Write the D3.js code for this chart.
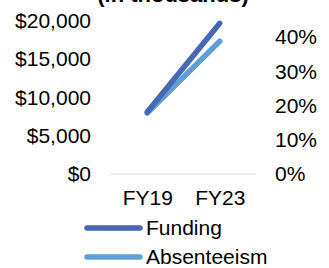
<!DOCTYPE html>
<html>
<head>
<meta charset="utf-8">
<script src="https://cdn.jsdelivr.net/npm/d3@7"></script>
<style>
  body { margin: 0; background: #fff; }
  text { font-family: Arial, "Liberation Sans", sans-serif; fill: #000; }
</style>
</head>
<body>
<div id="chart"></div>
<script>
// data
var categories = ["FY19", "FY23"];
var funding = [8100, 19700];          // dollars (in thousands)
var absenteeism = [0.178, 0.388];     // share
var leftTicks = [0, 5000, 10000, 15000, 20000];
var rightTicks = [0, 0.1, 0.2, 0.3, 0.4];
var seriesNames = ["Funding", "Absenteeism"];
var seriesColors = ["#4768b2", "#5e9fd6"];

var width = 329, height = 268;
var fs = 21;

var svg = d3.select("#chart").append("svg")
    .attr("width", width)
    .attr("height", height);

// plot area
var plotLeft = 111, plotRight = 256, plotTop = 21, plotBottom = 174;

var x = d3.scalePoint()
    .domain(categories)
    .range([plotLeft, plotRight])
    .padding(0.5);

var yLeft = d3.scaleLinear().domain([0, 20000]).range([plotBottom, plotTop]);
// right axis: 45% lands at the top of the plot
var yRight = d3.scaleLinear().domain([0, 0.45]).range([plotBottom, plotTop - 1]);

// title, mostly cut off by the top edge (as in the source image)
svg.append("text")
    .attr("x", 173)
    .attr("y", 1.5)
    .attr("text-anchor", "middle")
    .style("font-size", "22px")
    .style("font-weight", "bold")
    .text("(in thousands)");

// zero gridline
svg.append("line")
    .attr("x1", plotLeft).attr("x2", plotRight)
    .attr("y1", yLeft(0)).attr("y2", yLeft(0))
    .attr("stroke", "#d9d9d9")
    .attr("stroke-width", 1);

// left axis
var axL = d3.axisLeft(yLeft)
    .tickValues(leftTicks)
    .tickSize(0)
    .tickPadding(0)
    .tickFormat(function (d) { return "$" + d3.format(",")(d); });
var gL = svg.append("g").attr("transform", "translate(91,0)").call(axL);
gL.select(".domain").remove();
gL.selectAll("text").style("font-size", fs + "px").attr("fill", "#000")
    .style("font-family", "Arial, 'Liberation Sans', sans-serif");

// right axis
var axR = d3.axisRight(yRight)
    .tickValues(rightTicks)
    .tickSize(0)
    .tickPadding(0)
    .tickFormat(d3.format(".0%"));
var gR = svg.append("g").attr("transform", "translate(275,0)").call(axR);
gR.select(".domain").remove();
gR.selectAll("text").style("font-size", fs + "px").attr("fill", "#000")
    .style("font-family", "Arial, 'Liberation Sans', sans-serif");

// category labels
var axB = d3.axisBottom(x).tickSize(0).tickPadding(0);
var gB = svg.append("g").attr("transform", "translate(0,190)").call(axB);
gB.select(".domain").remove();
gB.selectAll("text").style("font-size", fs + "px").attr("fill", "#000")
    .style("font-family", "Arial, 'Liberation Sans', sans-serif");

// lines
var lineL = d3.line()
    .x(function (d, i) { return x(categories[i]); })
    .y(function (d) { return yLeft(d); });
var lineR = d3.line()
    .x(function (d, i) { return x(categories[i]); })
    .y(function (d) { return yRight(d); });

svg.append("path")
    .attr("d", lineR(absenteeism))
    .attr("fill", "none")
    .attr("stroke", seriesColors[1])
    .attr("stroke-width", 5.5)
    .attr("stroke-linecap", "round");

svg.append("path")
    .attr("d", lineL(funding))
    .attr("fill", "none")
    .attr("stroke", seriesColors[0])
    .attr("stroke-width", 5.5)
    .attr("stroke-linecap", "round");

// legend
var legend = svg.selectAll(".leg")
    .data(seriesNames)
    .enter().append("g")
    .attr("class", "leg")
    .attr("transform", function (d, i) { return "translate(0," + (228 + i * 29) + ")"; });

legend.append("line")
    .attr("x1", 87).attr("x2", 140)
    .attr("y1", 0).attr("y2", 0)
    .attr("stroke", function (d, i) { return seriesColors[i]; })
    .attr("stroke-width", 5.5)
    .attr("stroke-linecap", "round");

legend.append("text")
    .attr("x", 146)
    .attr("y", 0)
    .attr("dy", "0.35em")
    .style("font-size", fs + "px")
    .text(function (d) { return d; });
</script>
</body>
</html>
